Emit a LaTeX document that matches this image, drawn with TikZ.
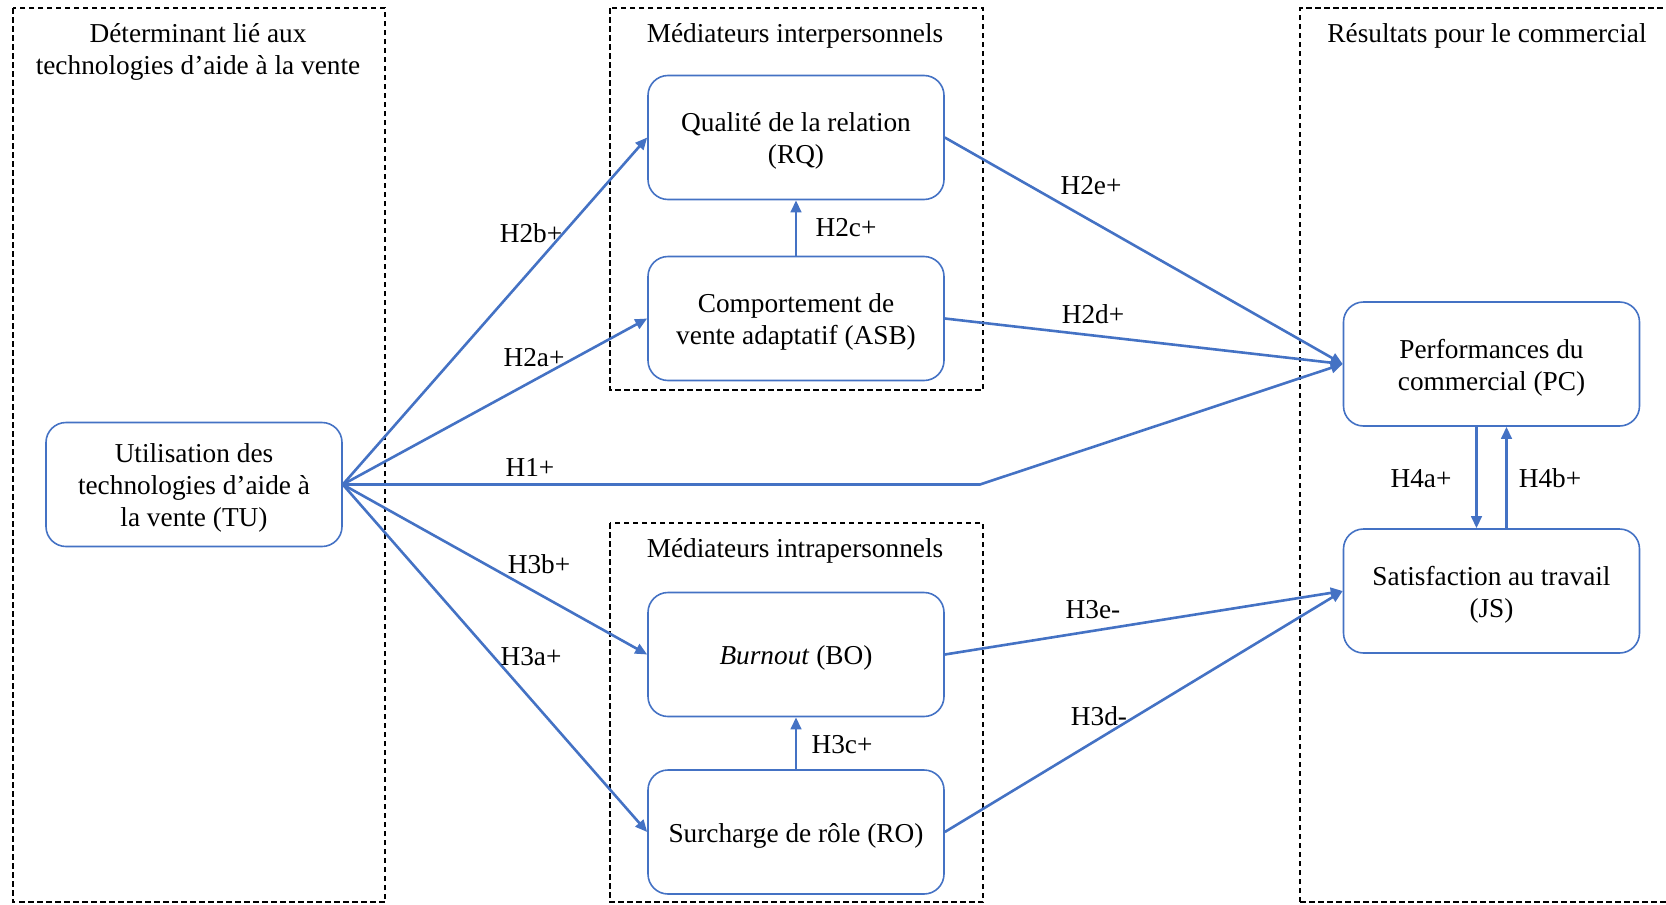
\documentclass[tikz,border=0pt]{standalone}
\usepackage{fontspec}
\setmainfont{Liberation Serif}
\usetikzlibrary{arrows.meta}
\definecolor{lnblue}{RGB}{68,114,196}
\newcommand{\bxt}[1]{\raisebox{-4pt}[\height][\depth]{\begin{tabular}{@{}c@{}}#1\end{tabular}}}
\begin{document}
\begin{tikzpicture}[x=1pt,y=-1pt,
  every node/.style={font=\fontsize{27.3}{32}\selectfont, inner sep=0pt},
  box/.style={draw=lnblue, line width=1.6pt, rounded corners=20pt, minimum width=296pt, minimum height=124pt, align=center},
  grp/.style={draw=black, line width=1.3pt, dash pattern=on 5.5pt off 3.5pt},
  arr/.style={draw=lnblue, line width=2.6pt, -{Triangle[length=12pt,width=10.5pt]}},
  lbl/.style={anchor=center},
  ttl/.style={align=center, anchor=center}]
\useasboundingbox (0,0) rectangle (1666,905);
% group frames
\draw[grp] (13,8) rectangle (385,902);
\draw[grp] (610,8) rectangle (983,390);
\draw[grp] (610,523) rectangle (983,902);
\draw[grp] (1300,902) -- (1300,8) -- (1666,8);
\draw[grp] (1300,902) -- (1666,902);
% titles
\node[ttl] (t1) at (198,52) {Déterminant lié aux\\technologies d’aide à la vente};
\node[ttl] (t2) at (795,36) {Médiateurs interpersonnels};
\node[ttl] (t3) at (795,551) {Médiateurs intrapersonnels};
\node[ttl] (t4) at (1487,36) {Résultats pour le commercial};
% boxes
\node[box] (RQ) at (796,137.5) {\bxt{Qualité de la relation\\(RQ)}};
\node[box] (ASB) at (796,318.5) {\bxt{Comportement de\\vente adaptatif (ASB)}};
\node[box] (TU) at (194,484.5) {\bxt{Utilisation des\\technologies d’aide à\\la vente (TU)}};
\node[box] (PC) at (1491.5,364) {\bxt{Performances du\\commercial (PC)}};
\node[box] (JS) at (1491.5,591) {\bxt{Satisfaction au travail\\(JS)}};
\node[box] (BO) at (796,654.5) {\bxt{\textit{Burnout} (BO)}};
\node[box] (RO) at (796,832) {\bxt{Surcharge de rôle (RO)}};
\coordinate (bend) at (980,484.5);
% connectors
\draw[arr] (TU.east) -- (RQ.west);
\draw[arr] (TU.east) -- (ASB.west);
\draw[arr] (TU.east) -- (BO.west);
\draw[arr] (TU.east) -- (RO.west);
\draw[arr] (TU.east) -- (bend) -- (PC.west);
\draw[arr] (RQ.east) -- (PC.west);
\draw[arr] (ASB.east) -- (PC.west);
\draw[arr] (ASB.north) -- (RQ.south);
\draw[arr] (BO.east) -- (JS.west);
\draw[arr] (RO.east) -- (JS.west);
\draw[arr] (RO.north) -- (BO.south);
\draw[arr] ([xshift=-15pt]PC.south) -- ([xshift=-15pt]JS.north);
\draw[arr] ([xshift=15pt]JS.north) -- ([xshift=15pt]PC.south);
% labels
\node[lbl] (l1) at (531,233) {H2b+};
\node[lbl] (l2) at (534,358) {H2a+};
\node[lbl] (l3) at (530,467) {H1+};
\node[lbl] (l4) at (539,564) {H3b+};
\node[lbl] (l5) at (531,657) {H3a+};
\node[lbl] (l6) at (1091,186) {H2e+};
\node[lbl] (l7) at (1093,314) {H2d+};
\node[lbl] (l8) at (846,228) {H2c+};
\node[lbl] (l9) at (1093,610) {H3e-};
\node[lbl] (l10) at (1099,716) {H3d-};
\node[lbl] (l11) at (842,745) {H3c+};
\node[lbl] (l12) at (1421,479) {H4a+};
\node[lbl] (l13) at (1550,478) {H4b+};
\end{tikzpicture}
\end{document}
